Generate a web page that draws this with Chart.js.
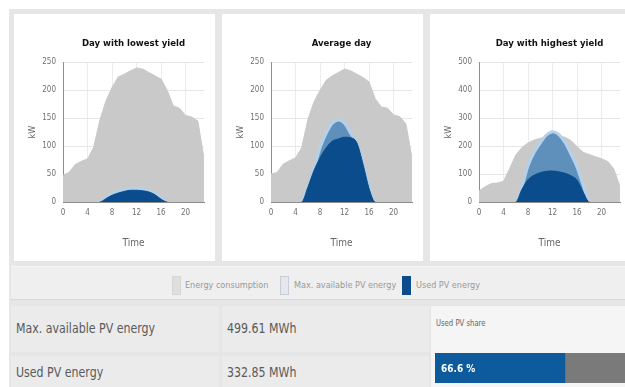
<!DOCTYPE html>
<html>
<head>
<meta charset="utf-8">
<script src="https://cdn.jsdelivr.net/npm/chart.js@4.4.1/dist/chart.umd.min.js"></script>
<style>
  html, body { margin: 0; padding: 0; background: #ffffff; overflow: hidden; }
  body { width: 625px; height: 387px; position: relative;
         font-family: 'DejaVu Sans Condensed', 'DejaVu Sans', sans-serif; }
  .frame { position: absolute; left: 9px; top: 9px; width: 640px; height: 400px; background: #e6e6e6; }
  .panel { position: absolute; top: 14px; width: 201px; height: 247px; background: #ffffff; }
  .panel canvas { position: absolute; left: 0; top: 0; }
  .legend { position: absolute; left: 11px; top: 266px; width: 640px; height: 32px; background: #efefef;
            border-top: 1px solid #f6f6f6; border-bottom: 1px solid #dadada; }
  .legend .item { position: absolute; top: 8px; height: 20px; font-size: 9px; color: #999; line-height: 20px; white-space: nowrap; }
  .legend .box { position: absolute; top: 9px; width: 9px; height: 19px; }
  .cell { position: absolute; background: #ebebeb; color: #5a5a5a; font-size: 14px; white-space: nowrap; }
  .cell span { position: absolute; left: 5px; transform: scaleX(0.875); transform-origin: 0 0; }
  .share { position: absolute; left: 431px; top: 306px; width: 220px; height: 90px; background: #f5f5f5; }
  .share .lbl { position: absolute; left: 5px; top: 12px; font-size: 9px; color: #666;
                transform: scaleX(0.85); transform-origin: 0 0; }
  #shareBar { position: absolute; left: 435px; top: 353px; }
</style>
</head>
<body>
<div class="frame"></div>
<div class="panel" style="left:14px"><canvas id="cLow" width="201" height="247"></canvas></div>
<div class="panel" style="left:222px"><canvas id="cAvg" width="201" height="247"></canvas></div>
<div class="panel" style="left:430px"><canvas id="cHigh" width="201" height="247"></canvas></div>

<div class="legend" id="legend"></div>

<div class="cell" style="left:11px; top:306px; width:208px; height:46px;"><span style="top:14px">Max. available PV energy</span></div>
<div class="cell" style="left:222px; top:306px; width:207px; height:46px;"><span id="maxTxt" style="top:14px"></span></div>
<div class="cell" style="left:11px; top:356px; width:208px; height:40px;"><span style="top:8px">Used PV energy</span></div>
<div class="cell" style="left:222px; top:356px; width:207px; height:40px;"><span id="usedTxt" style="top:8px"></span></div>
<div class="share"><div class="lbl">Used PV share</div></div>
<canvas id="shareBar" width="195" height="30"></canvas>

<script>
// Hours of the day on the x axis
const hours = [0, 1, 2, 3, 4, 5, 6, 7, 8, 9, 10, 11, 12, 13, 14, 15, 16, 17, 18, 19, 20, 21, 22, 23];
const xTicks = [0, 4, 8, 12, 16, 20];

// Day with lowest yield (kW)
const consumptionLow = [48, 53, 67, 73, 77, 98, 146, 181, 205, 224, 229, 235, 240, 238, 232, 226, 220, 200, 172, 168, 155, 152, 145, 78];
const availableLow   = [0, 0, 0, 0, 0, 0, 0, 8, 14, 19, 22, 24, 24, 23, 20, 15, 7, 0, 0, 0, 0, 0, 0, 0];
const usedLow        = [0, 0, 0, 0, 0, 0, 0, 6, 12, 16, 19, 21, 21, 20, 18, 13, 5, 0, 0, 0, 0, 0, 0, 0];

// Average day (kW)
const consumptionAvg = [50, 53, 68, 74, 79, 97, 147, 179, 200, 218, 226, 232, 238, 235, 229, 223, 215, 185, 170, 168, 156, 153, 140, 79];
const availableAvg   = [0, 0, 0, 0, 0, 0, 26, 58, 97, 123, 141, 147, 141, 123, 104, 70, 26, 0, 0, 0, 0, 0, 0, 0];
const usedAvg        = [0, 0, 0, 0, 0, 0, 26, 56, 79, 97, 109, 113, 116, 115, 106, 68, 24, 0, 0, 0, 0, 0, 0, 0];

// Day with highest yield (kW)
const consumptionHigh = [40, 55, 66, 68, 74, 120, 168, 195, 212, 222, 228, 234, 238, 236, 232, 220, 198, 178, 170, 162, 155, 145, 118, 55];
const availableHigh   = [0, 0, 0, 0, 0, 0, 0, 55, 130, 178, 212, 240, 252, 242, 214, 172, 125, 60, 0, 0, 0, 0, 0, 0];
const usedHigh        = [0, 0, 0, 0, 0, 0, 0, 45, 80, 96, 105, 110, 111, 108, 103, 94, 78, 35, 0, 0, 0, 0, 0, 0];

// Totals
const maxAvailableMWh = 499.61;
const usedMWh = 332.85;

const seriesNames = ['Energy consumption', 'Max. available PV energy', 'Used PV energy'];
const colors = {
  consumption: '#c9c9c9',
  available: '#5f8fbb',
  availableEdge: '#b3d1ea',
  used: '#0b4d8c'
};

const FONT = "'DejaVu Sans Condensed', 'DejaVu Sans', sans-serif";

function pts(values) {
  return hours.map((h, i) => ({ x: h, y: values[i] }));
}

const hideFlat = ctx => (ctx.p0.parsed.y === 0 && ctx.p1.parsed.y === 0) ? 'rgba(0,0,0,0)' : undefined;

function dayChart(id, title, consumption, available, used, yMax, yStep) {
  new Chart(document.getElementById(id), {
    type: 'line',
    data: {
      datasets: [
        { label: seriesNames[2], data: pts(used), fill: 'origin', backgroundColor: colors.used,
          borderColor: colors.used, borderWidth: 1, pointRadius: 0, cubicInterpolationMode: 'monotone',
          segment: { borderColor: hideFlat } },
        { label: seriesNames[1], data: pts(available), fill: 'origin', backgroundColor: colors.available,
          borderColor: colors.availableEdge, borderWidth: 3, pointRadius: 0, cubicInterpolationMode: 'monotone',
          segment: { borderColor: hideFlat } },
        { label: seriesNames[0], data: pts(consumption), fill: 'origin', backgroundColor: colors.consumption,
          borderColor: colors.consumption, borderWidth: 1, pointRadius: 0, tension: 0 }
      ]
    },
    options: {
      responsive: false,
      animation: false,
      layout: { padding: { left: 0, right: 11, top: 0, bottom: 0 } },
      plugins: {
        legend: { display: false },
        tooltip: { enabled: false },
        title: {
          display: true, text: title, fullSize: false, color: '#111',
          font: { family: FONT, size: 9.5, weight: 'bold', lineHeight: 1.2 },
          padding: { top: 24, bottom: 13 }
        }
      },
      scales: {
        x: {
          type: 'linear', min: 0, max: 23,
          afterFit: s => { s.height = 59; },
          afterBuildTicks: s => { s.ticks = xTicks.map(v => ({ value: v })); },
          ticks: { color: '#707070', font: { family: FONT, size: 8 }, padding: 6, maxRotation: 0 },
          grid: { color: '#ececec', drawTicks: false },
          border: { color: '#8c8c8c', width: 1 },
          title: { display: true, text: 'Time', color: '#666', font: { family: FONT, size: 10 }, padding: { top: 0, bottom: 12 } }
        },
        y: {
          min: 0, max: yMax,
          afterFit: s => { s.width = 49; },
          ticks: { stepSize: yStep, color: '#707070', font: { family: FONT, size: 8 }, padding: 7 },
          grid: { color: '#e6e6e6', drawTicks: false },
          border: { color: '#8c8c8c', width: 1 },
          title: { display: true, text: 'kW', color: '#666', font: { family: FONT, size: 9 }, padding: { top: 13, bottom: 0 } }
        }
      }
    }
  });
}

dayChart('cLow', 'Day with lowest yield', consumptionLow, availableLow, usedLow, 250, 50);
dayChart('cAvg', 'Average day', consumptionAvg, availableAvg, usedAvg, 250, 50);
dayChart('cHigh', 'Day with highest yield', consumptionHigh, availableHigh, usedHigh, 500, 100);

// Shared legend
const legendItems = [
  { name: seriesNames[0], color: '#dedede', border: '#d6d6d6', boxX: 172, textX: 185 },
  { name: seriesNames[1], color: '#e4e8ec', border: '#c5ced8', boxX: 280, textX: 294 },
  { name: seriesNames[2], color: colors.used, border: colors.used, boxX: 402, textX: 416 }
];
const legend = document.getElementById('legend');
legendItems.forEach(it => {
  const b = document.createElement('div');
  b.className = 'box';
  b.style.left = (it.boxX - 11) + 'px';
  b.style.background = it.color;
  b.style.boxShadow = 'inset 0 0 0 1px ' + it.border;
  legend.appendChild(b);
  const t = document.createElement('div');
  t.className = 'item';
  t.style.left = (it.textX - 11) + 'px';
  t.textContent = it.name;
  legend.appendChild(t);
});

// Totals table
const fmt = v => v.toFixed(2) + ' MWh';
document.getElementById('maxTxt').textContent = fmt(maxAvailableMWh);
document.getElementById('usedTxt').textContent = fmt(usedMWh);

// Share of available PV energy that was used
const sharePct = Math.round(usedMWh / maxAvailableMWh * 1000) / 10;
const shareLabel = {
  id: 'shareLabel',
  afterDatasetsDraw(chart) {
    const ctx = chart.ctx;
    ctx.save();
    ctx.fillStyle = '#ffffff';
    ctx.font = 'bold 10px ' + FONT;
    ctx.textBaseline = 'middle';
    ctx.fillText(sharePct.toFixed(1) + ' %', 6, chart.height / 2 + 1);
    ctx.restore();
  }
};
new Chart(document.getElementById('shareBar'), {
  type: 'bar',
  data: {
    labels: ['share'],
    datasets: [
      { data: [sharePct], backgroundColor: '#0d5a9c', barPercentage: 1, categoryPercentage: 1 },
      { data: [100 - sharePct], backgroundColor: '#7a7a7a', barPercentage: 1, categoryPercentage: 1 }
    ]
  },
  options: {
    indexAxis: 'y',
    responsive: false,
    animation: false,
    layout: { padding: 0 },
    plugins: { legend: { display: false }, tooltip: { enabled: false } },
    scales: {
      x: { display: false, stacked: true, min: 0, max: 100 },
      y: { display: false, stacked: true }
    }
  },
  plugins: [shareLabel]
});
</script>
</body>
</html>
